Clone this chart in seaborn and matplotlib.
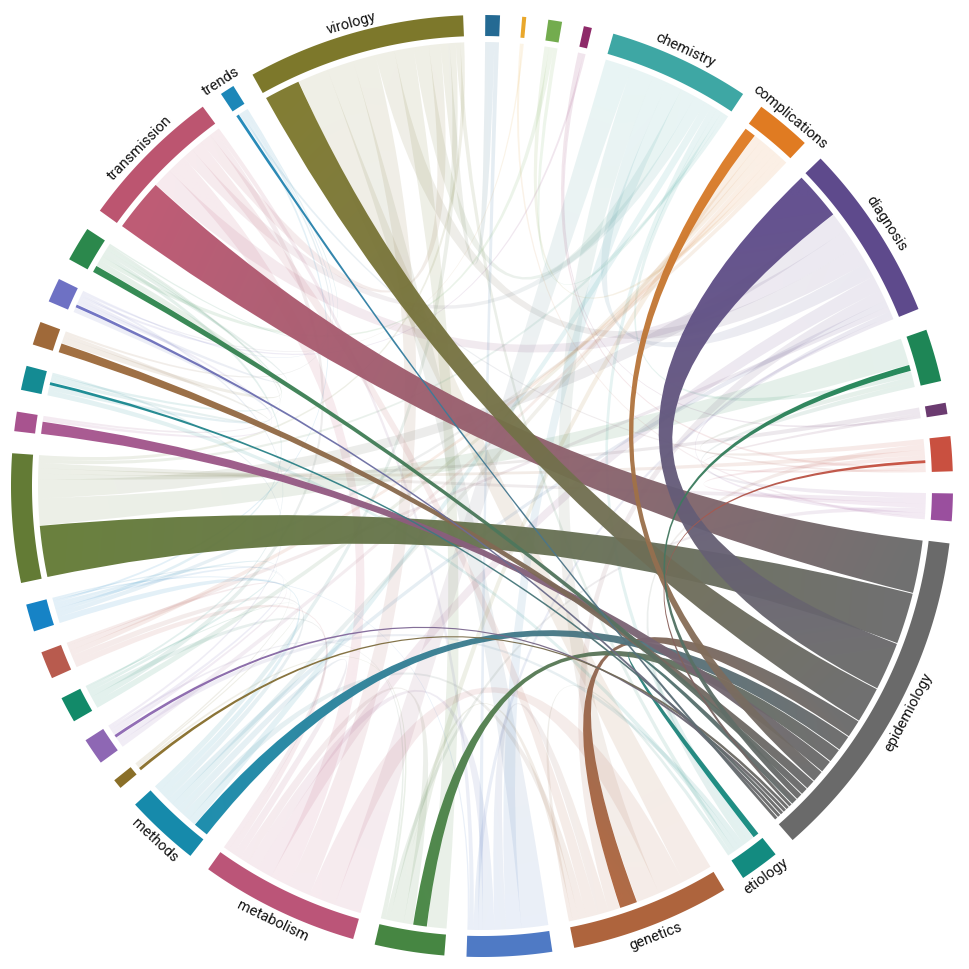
import numpy as np
import matplotlib.pyplot as plt
import seaborn as sns
from matplotlib.path import Path
from matplotlib.patches import PathPatch, Polygon

sns.set_theme(style="white")
plt.rcParams["font.family"] = ["Roboto", "DejaVu Sans"]

# Groups, clockwise from 12 o'clock (blank label = unlabelled group)
group_labels = ["", "", "", "", "chemistry", "complications", "diagnosis", "", "", "", "",
                "epidemiology", "etiology", "genetics", "", "", "metabolism", "methods",
                "", "", "", "", "", "", "", "", "", "", "", "transmission", "trends", "virology"]
group_colors = ["#246a93", "#e9a72b", "#73ac4e", "#8e2a69", "#3ea7a4", "#e07b22", "#5e4a8c",
                "#1e8656", "#6b3b70", "#c95040", "#9a4f9e", "#6a6a6a", "#138b80", "#ae643d",
                "#4f7ac5", "#468642", "#bb5578", "#168aab", "#8a6f28", "#8e67b4", "#128a69",
                "#b85b4e", "#1683c6", "#637b35", "#a8538f", "#148b93", "#9f6939", "#6e71c4",
                "#2b884c", "#bc5570", "#1d87b8", "#7d782b"]

# Highlighted links: every group tied to epidemiology
epi_partner = [29, 23, 6, 31, 13, 17, 15, 24, 5, 26, 28, 7, 12, 19, 18, 9, 25, 27, 30]
epi_value = [70, 68, 64, 48, 24, 21, 19, 17, 16, 13, 10, 9, 9, 5, 5, 5, 5, 5, 5]

# Background links (faint ribbons)
link_a = [13, 14, 16, 15, 6, 4, 29, 23, 17, 12, 0,
          4, 4, 4, 4, 4, 4, 4, 4, 4, 2,
          6, 6, 6, 6, 6, 6, 6, 6,
          16, 13, 14, 20,
          7, 9, 10, 8,
          13, 13, 13, 13, 12,
          14, 15, 16, 16, 16,
          14, 0, 5, 10, 15, 15, 17, 17, 5,
          5, 5, 5, 5, 2, 12, 9, 12,
          7, 7, 8, 3, 9, 3, 9, 1,
          18, 18, 19, 19, 19, 20, 20,
          22, 22, 24, 24, 25, 25, 25, 26, 26,
          27, 3, 1, 27, 2, 28]
link_b = [31, 31, 31, 31, 31, 31, 31, 31, 31, 31, 31,
          16, 13, 6, 14, 29, 23, 17, 12, 7, 4,
          23, 29, 16, 13, 14, 17, 21, 10,
          29, 29, 29, 29,
          23, 23, 23, 23,
          16, 14, 17, 15, 13,
          16, 16, 17, 21, 20,
          22, 14, 15, 15, 18, 19, 21, 22, 17,
          20, 21, 22, 19, 5, 19, 12, 25,
          9, 10, 9, 8, 10, 9, 30, 10,
          20, 22, 21, 22, 25, 22, 27,
          28, 30, 27, 28, 26, 27, 28, 28, 30,
          28, 27, 27, 30, 28, 30]
link_v = [40, 35, 30, 25, 25, 20, 15, 5, 8, 6, 12,
          35, 30, 20, 20, 15, 5, 10, 8, 7, 5,
          25, 25, 20, 15, 6, 8, 7, 5,
          25, 15, 6, 8,
          35, 7, 7, 7,
          35, 15, 10, 8, 5,
          15, 12, 10, 8, 7,
          2, 6, 10, 6, 3, 3, 8, 8, 9,
          8, 7, 6, 7, 6, 7, 7, 7,
          7, 7, 4, 3, 6, 4, 3, 3,
          2, 2, 4, 4, 3, 4, 3,
          5, 3, 4, 3, 5, 6, 4, 8, 3,
          5, 3, 2, 2, 6, 2]

EPI = group_labels.index("epidemiology")
n = len(group_labels)
mat = np.zeros((n, n))
for a, b, v in zip(link_a, link_b, link_v):
    mat[a, b] += v
    mat[b, a] += v
for p, v in zip(epi_partner, epi_value):
    mat[EPI, p] += v
    mat[p, EPI] += v

palette = sns.color_palette(group_colors)

# layout (angles in degrees clockwise from top), subgroups sorted descending
pad = 2.7
k = (360 - pad * n) / mat.sum()
g_start, g_end, sub = [], [], {}
theta = 0.4
for i in range(n):
    g_start.append(theta)
    order = sorted([j for j in range(n) if mat[i, j] > 0], key=lambda j: -mat[i, j])
    for j in order:
        w = mat[i, j] * k
        sub[(i, j)] = (theta, theta + w)
        theta += w
    g_end.append(theta)
    theta += pad

CX, CY = 482, 487
R_OUT, R_IN, R_CH = 471, 450, 444


def polar(t, r):
    t = np.radians(t)
    return CX + r * np.sin(t), CY - r * np.cos(t)


def arc_pts(a0, a1, r):
    ts = np.linspace(a0, a1, max(2, int(abs(a1 - a0) * 4) + 2))
    x, y = polar(ts, r)
    return np.column_stack([x, y])


def shrink(a0, a1, gap):
    d = min(gap, (a1 - a0) * 0.15)
    return a0 + d, a1 - d


def ribbon_path(s, t, gap):
    s0, s1 = shrink(*s, gap)
    t0, t1 = shrink(*t, gap)
    src = arc_pts(s0, s1, R_CH)
    tgt = arc_pts(t0, t1, R_CH)
    verts = list(src) + [(CX, CY), tgt[0]] + list(tgt[1:]) + [(CX, CY), src[0], src[0]]
    codes = ([Path.MOVETO] + [Path.LINETO] * (len(src) - 1) + [Path.CURVE3, Path.CURVE3]
             + [Path.LINETO] * (len(tgt) - 1) + [Path.CURVE3, Path.CURVE3, Path.CLOSEPOLY])
    return Path(np.array(verts), codes)


fig = plt.figure(figsize=(9.7, 9.7), dpi=100)
ax = fig.add_axes([0, 0, 1, 1])


def draw_ribbon(i, j, alpha, z, gap):
    s, t = sub[(i, j)], sub[(j, i)]
    path = ribbon_path(s, t, gap)
    ps = np.array(polar(np.mean(s), R_CH))
    pt = np.array(polar(np.mean(t), R_CH))
    x0, y0 = path.vertices.min(axis=0) - 3
    x1, y1 = path.vertices.max(axis=0) + 3
    X, Y = np.meshgrid(np.linspace(x0, x1, 60), np.linspace(y0, y1, 60))
    d = pt - ps
    f = np.clip(((X - ps[0]) * d[0] + (Y - ps[1]) * d[1]) / (d @ d), 0, 1)[..., None]
    rgb = (1 - f) * np.array(palette[i]) + f * np.array(palette[j])
    img = np.dstack([rgb, np.full(f.shape[:2], alpha)])
    im = ax.imshow(img, extent=(x0, x1, y1, y0), origin="upper",
                   interpolation="bilinear", zorder=z)
    patch = PathPatch(path, transform=ax.transData, fc="none", ec="none")
    ax.add_patch(patch)
    im.set_clip_path(patch)


# faint background ribbons
for a, b in zip(link_a, link_b):
    draw_ribbon(a, b, 0.12, 1, 0.0)

# highlighted ribbons to epidemiology
for p in epi_partner:
    draw_ribbon(p, EPI, 0.96, 2, 0.06)

# group arcs
for i in range(n):
    outer = arc_pts(g_start[i], g_end[i], R_OUT)
    inner = arc_pts(g_start[i], g_end[i], R_IN)[::-1]
    ax.add_patch(Polygon(np.vstack([outer, inner]), closed=True,
                         fc=palette[i], ec="none", zorder=3))

# labels
for i, lab in enumerate(group_labels):
    if not lab:
        continue
    mid = (g_start[i] + g_end[i]) / 2
    phi = 90 - mid
    if 90 < mid < 270:
        x, y = polar(mid, R_OUT + 4)
        ax.text(x, y, lab, rotation=phi + 90, rotation_mode="anchor",
                ha="center", va="top", fontsize=10.5, color="#111111", zorder=4)
    else:
        x, y = polar(mid, R_OUT + 7)
        ax.text(x, y, lab, rotation=phi - 90, rotation_mode="anchor",
                ha="center", va="baseline", fontsize=10.5, color="#111111", zorder=4)

ax.set_xlim(0, 970)
ax.set_ylim(970, 0)
ax.set_aspect("auto")
ax.axis("off")
fig.savefig("out.png", dpi=100, facecolor="white")
